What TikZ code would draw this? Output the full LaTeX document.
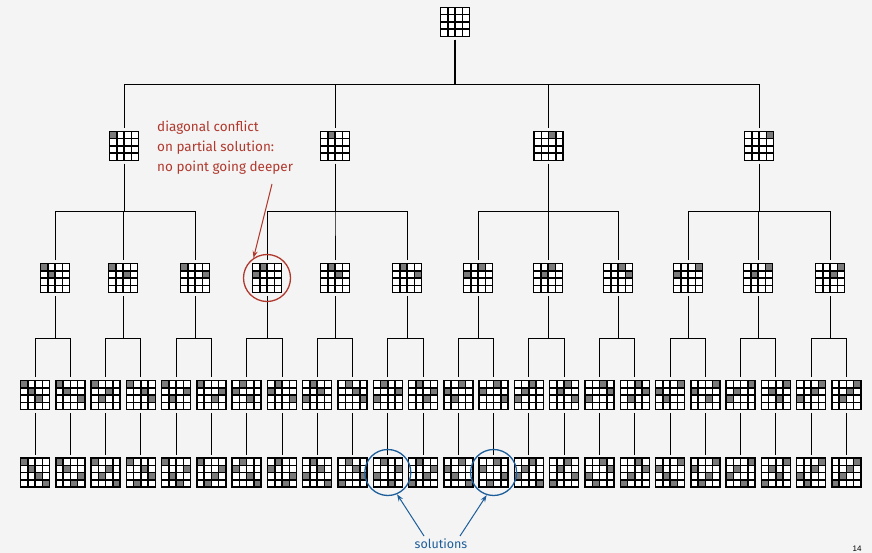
\documentclass[tikz,border=0pt]{standalone}
\usepackage{fontspec}
\newfontfamily\notefont{Fira Sans}
\newfontfamily\pgfont{Liberation Sans}
\usetikzlibrary{arrows.meta}
\definecolor{bgc}{HTML}{F4F4F4}
\definecolor{qgray}{HTML}{7A7A7A}
\definecolor{noter}{HTML}{B0392E}
\definecolor{noteb}{HTML}{1D5E9A}
\tikzset{
 board/.style={fill=white, inner sep=0pt, outer sep=3.5pt, minimum size=29pt, draw=none},
 queen/.style={fill=qgray},
 gridl/.style={line width=1.5pt, draw=black},
 edge/.style={line width=1pt, draw=black},
 edgetop/.style={line width=1.8pt, draw=black},
 redring/.style={circle, draw=noter, line width=1.3pt, minimum size=47pt, inner sep=0pt},
 bluering/.style={circle, draw=noteb, line width=1.3pt, minimum size=46pt, inner sep=0pt},
 redarrow/.style={draw=noter, line width=1pt, -{Stealth[length=7pt,width=5pt]}},
 bluearrow/.style={draw=noteb, line width=1pt, -{Stealth[length=7pt,width=5pt]}},
}
% name, x, y, queen columns by row
\newcommand\bd[4]{%
  \node[board] (#1) at (#2,#3) {};
  \foreach \qc [count=\qr from 0] in {#4} {%
    \ifnum\qc<4 \fill[queen] ({#2-14.5+\qc*7.25},{#3-14.5+\qr*7.25}) rectangle ++(7.25,7.25);\fi}
  \foreach \qk in {1,2,3} {%
    \draw[gridl] ({#2-14.5+\qk*7.25},{#3-14.5}) -- ++(0,29);
    \draw[gridl] ({#2-14.5},{#3-14.5+\qk*7.25}) -- ++(29,0);}
  \draw[gridl] ({#2-14.5},{#3-14.5}) rectangle ++(29,29);
}
\newcommand\tconn[3]{\draw[edge] (#1.south) -- (#1.south |- #3) -| (#2.north);}
\begin{document}
\begin{tikzpicture}[x=1pt,y=-1pt]
\fill[bgc] (0,0) rectangle (872,553);
\useasboundingbox (0,0) rectangle (872,553);
\coordinate (y1) at (0,85);
\coordinate (y2) at (0,212);
\coordinate (y3) at (0,338);
% root
\bd{r}{455}{22}{9}
% level 1
\bd{a0}{124}{146}{0}
\bd{a1}{335}{146}{1}
\bd{a2}{548.5}{146}{2}
\bd{a3}{759}{146}{3}
% level 2
\bd{b0}{55}{278}{0,1}
\bd{b1}{123}{278}{0,2}
\bd{b2}{195}{278}{0,3}
\bd{b3}{267}{278}{1,0}
\bd{b4}{335}{278}{1,2}
\bd{b5}{407}{278}{1,3}
\bd{b6}{478}{278}{2,0}
\bd{b7}{548}{278}{2,1}
\bd{b8}{618}{278}{2,3}
\bd{b9}{688}{278}{3,0}
\bd{b10}{758}{278}{3,1}
\bd{b11}{830}{278}{3,2}
% level 3
\bd{c0}{35.0}{395}{0,1,2}
\bd{c1}{70.3}{395}{0,1,3}
\bd{c2}{105.6}{395}{0,2,1}
\bd{c3}{140.8}{395}{0,2,3}
\bd{c4}{176.1}{395}{0,3,1}
\bd{c5}{211.4}{395}{0,3,2}
\bd{c6}{246.7}{395}{1,0,2}
\bd{c7}{282.0}{395}{1,0,3}
\bd{c8}{317.2}{395}{1,2,0}
\bd{c9}{352.5}{395}{1,2,3}
\bd{c10}{387.8}{395}{1,3,0}
\bd{c11}{423.1}{395}{1,3,2}
\bd{c12}{458.4}{395}{2,0,1}
\bd{c13}{493.6}{395}{2,0,3}
\bd{c14}{528.9}{395}{2,1,0}
\bd{c15}{564.2}{395}{2,1,3}
\bd{c16}{599.5}{395}{2,3,0}
\bd{c17}{634.8}{395}{2,3,1}
\bd{c18}{670.0}{395}{3,0,1}
\bd{c19}{705.3}{395}{3,0,2}
\bd{c20}{740.6}{395}{3,1,0}
\bd{c21}{775.9}{395}{3,1,2}
\bd{c22}{811.2}{395}{3,2,0}
\bd{c23}{846.4}{395}{3,2,1}
% level 4
\bd{d0}{35.0}{472.5}{0,1,2,3}
\bd{d1}{70.3}{472.5}{0,1,3,2}
\bd{d2}{105.6}{472.5}{0,2,1,3}
\bd{d3}{140.8}{472.5}{0,2,3,1}
\bd{d4}{176.1}{472.5}{0,3,1,2}
\bd{d5}{211.4}{472.5}{0,3,2,1}
\bd{d6}{246.7}{472.5}{1,0,2,3}
\bd{d7}{282.0}{472.5}{1,0,3,2}
\bd{d8}{317.2}{472.5}{1,2,0,3}
\bd{d9}{352.5}{472.5}{1,2,3,0}
\bd{d10}{387.8}{472.5}{1,3,0,2}
\bd{d11}{423.1}{472.5}{1,3,2,0}
\bd{d12}{458.4}{472.5}{2,0,1,3}
\bd{d13}{493.6}{472.5}{2,0,3,1}
\bd{d14}{528.9}{472.5}{2,1,0,3}
\bd{d15}{564.2}{472.5}{2,1,3,0}
\bd{d16}{599.5}{472.5}{2,3,0,1}
\bd{d17}{634.8}{472.5}{2,3,1,0}
\bd{d18}{670.0}{472.5}{3,0,1,2}
\bd{d19}{705.3}{472.5}{3,0,2,1}
\bd{d20}{740.6}{472.5}{3,1,0,2}
\bd{d21}{775.9}{472.5}{3,1,2,0}
\bd{d22}{811.2}{472.5}{3,2,0,1}
\bd{d23}{846.4}{472.5}{3,2,1,0}
% connectors root -> level 1
\draw[edgetop] (r.south) -- (r.south |- y1);
\foreach \k in {0,1,2,3} {\tconn{r}{a\k}{y1}}
% level 1 -> level 2
\foreach \k/\p in {0/0,1/0,2/0,3/1,4/1,5/1,6/2,7/2,8/2,9/3,10/3,11/3} {\tconn{a\p}{b\k}{y2}}
% level 2 -> level 3
\foreach \k in {0,...,11} {%
  \pgfmathtruncatemacro\ka{2*\k}\pgfmathtruncatemacro\kb{2*\k+1}%
  \tconn{b\k}{c\ka}{y3}\tconn{b\k}{c\kb}{y3}}
% level 3 -> level 4
\foreach \k in {0,...,23} {\draw[edge] (c\k.south) -- (d\k.north);}
% annotation: diagonal conflict
\node[redring] (cc) at (267,278) {};
\node[anchor=north west, align=left, inner sep=0pt, text=noter,
      font=\notefont\fontsize{13.5}{20}\selectfont] (note) at (157,121)
  {diagonal conflict\\on partial solution:\\no point going deeper};
\coordinate (na) at (272,184);
\draw[redarrow] (na) -- (cc.124);
% annotation: solutions
\node[bluering] (s1) at (387.8,472.5) {};
\node[bluering] (s2) at (493.6,472.5) {};
\node[text=noteb, inner sep=0pt, font=\notefont\fontsize{12.5}{14}\selectfont] (sol) at (441,544) {solutions};
\coordinate (sla) at (424,536);
\coordinate (sra) at (460,536);
\draw[bluearrow] (sla) -- (s1.293);
\draw[bluearrow] (sra) -- (s2.253);
% page number
\node[font=\pgfont\fontsize{8}{9}\selectfont, inner sep=0pt] (pg) at (857,549) {14};
\end{tikzpicture}
\end{document}
